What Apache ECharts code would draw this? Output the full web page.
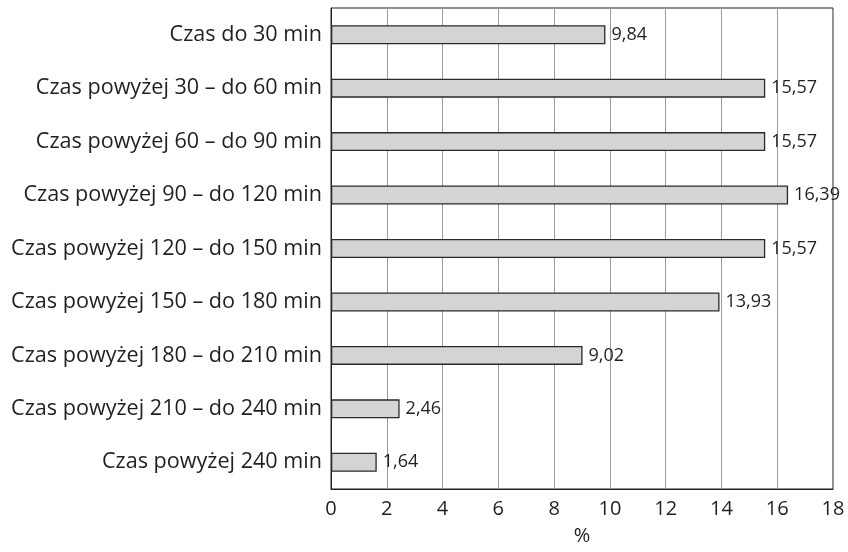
<!DOCTYPE html>
<html>
<head>
<meta charset="utf-8">
<script src="https://cdn.jsdelivr.net/npm/echarts@6/dist/echarts.min.js"></script>
<style>
html, body { margin: 0; padding: 0; background: #fff; }
#chart { width: 848px; height: 552px; }
</style>
</head>
<body>
<div id="chart"></div>
<script>
// Travel time groups, listed top to bottom
const categories = [
  'Czas do 30 min',
  'Czas powyżej 30 – do 60 min',
  'Czas powyżej 60 – do 90 min',
  'Czas powyżej 90 – do 120 min',
  'Czas powyżej 120 – do 150 min',
  'Czas powyżej 150 – do 180 min',
  'Czas powyżej 180 – do 210 min',
  'Czas powyżej 210 – do 240 min',
  'Czas powyżej 240 min'
];
// Share of respondents in each group, %
const shares = [9.84, 15.57, 15.57, 16.39, 15.57, 13.93, 9.02, 2.46, 1.64];
const axisMin = 0;
const axisMax = 18;
const axisStep = 2;
const axisTitle = '%';

const fontFamily = '"Open Sans", "Noto Sans", sans-serif';
const textColor = '#231f20';
const chart = echarts.init(document.getElementById('chart'), null, { renderer: 'canvas' });

chart.setOption({
  animation: false,
  backgroundColor: '#ffffff',
  grid: {
    left: 331, top: 8, width: 502, height: 481,
    outerBoundsMode: 'none',
    containLabel: false,
    show: true, borderColor: '#222', borderWidth: 1, backgroundColor: 'transparent'
  },
  xAxis: {
    type: 'value',
    min: axisMin, max: axisMax, interval: axisStep,
    name: axisTitle,
    nameLocation: 'middle',
    nameGap: 37,
    nameTextStyle: { fontFamily, fontSize: 20, color: textColor },
    axisLine: { show: true, lineStyle: { color: '#222', width: 1 } },
    axisTick: { show: false },
    axisLabel: { fontFamily, fontSize: 20, color: textColor, margin: 10 },
    splitLine: { show: true, lineStyle: { color: '#9a9a9a', width: 1 } }
  },
  yAxis: {
    type: 'category',
    data: categories,
    inverse: true,
    axisLine: { show: true, lineStyle: { color: '#222', width: 1 } },
    axisTick: { show: false },
    axisLabel: { fontFamily, fontSize: 21.6, color: textColor, margin: 9 }
  },
  series: [{
    type: 'bar',
    data: shares,
    barWidth: 19,
    itemStyle: { color: '#d4d4d4', borderColor: '#2a2a2a', borderWidth: 1.3 },
    label: {
      show: true,
      position: 'right',
      distance: 6,
      fontFamily, fontSize: 18, color: textColor,
      formatter: p => p.value.toFixed(2).replace('.', ',')
    }
  }]
});
</script>
</body>
</html>
